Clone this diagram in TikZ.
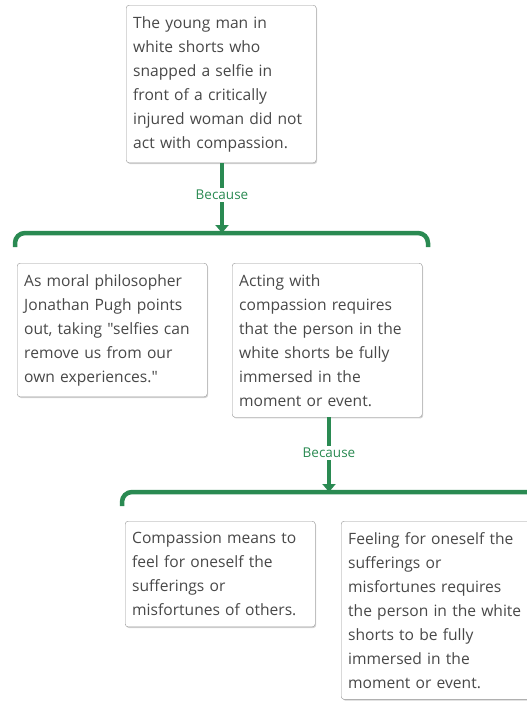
\documentclass[tikz,border=0pt]{standalone}
\usepackage{fontspec}
\setmainfont{Open Sans}[Ligatures=TeXOff]
\usetikzlibrary{arrows.meta,positioning,shadows}
\definecolor{reasongreen}{RGB}{42,138,82}
\definecolor{boxgray}{RGB}{150,150,150}
\definecolor{textgray}{RGB}{72,72,72}

\begin{document}
\begin{tikzpicture}[x=1pt,y=-1pt]
\tikzset{
  claimbox/.style={draw=boxgray,rounded corners=3pt,fill=white,
    drop shadow={shadow xshift=1pt,shadow yshift=-1.2pt,opacity=0.35},
    text width=176pt,align=left,inner xsep=7pt,inner ysep=11pt,anchor=north west,
    font=\fontsize{15.6}{24}\selectfont,text=textgray},
  becauselabel/.style={font=\fontsize{13.5}{15}\selectfont,text=reasongreen,inner sep=2pt},
  stem/.style={line width=4.5pt,reasongreen},
  reasonarrow/.style={line width=4.5pt,reasongreen,-{Triangle[length=8pt,width=13pt]}},
  bracket/.style={line width=4.5pt,reasongreen,rounded corners=10pt}
}
\useasboundingbox (0,0) rectangle (527,702);
\node[claimbox] (n_Claim) at (126,5) {The young man in\\ white shorts who\\ snapped a selfie in\\ front of a critically\\ injured woman did not\\ act with compassion.};
\node[becauselabel] (n_Because1) at (222,195) {Because};
\coordinate (c_Bar1) at (222,233);
\coordinate (c_Bar1L) at (15,247);
\coordinate (c_Bar1R) at (428,247);
\node[claimbox] (n_Pugh) at (17,263) {As moral philosopher\\ Jonathan Pugh points\\ out, taking "selfies can\\ remove us from our\\ own experiences."};
\node[claimbox] (n_Req) at (232,263) {Acting with\\ compassion requires\\ that the person in the\\ white shorts be fully\\ immersed in the\\ moment or event.};
\node[becauselabel] (n_Because2) at (329,453) {Because};
\coordinate (c_Bar2) at (329,492);
\coordinate (c_Bar2L) at (122,506);
\coordinate (c_Bar2R) at (540,506);
\node[claimbox] (n_Means) at (125,521) {Compassion means to\\ feel for oneself the\\ sufferings or\\ misfortunes of others.};
\node[claimbox] (n_Feel) at (341,521) {Feeling for oneself the\\ sufferings or\\ misfortunes requires\\ the person in the white\\ shorts to be fully\\ immersed in the\\ moment or event.};
\draw[stem] (n_Claim.south -| n_Because1) -- (n_Because1.north);
\draw[reasonarrow] (n_Because1.south) -- (c_Bar1);
\draw[bracket] (c_Bar1L) |- (c_Bar1) -| (c_Bar1R);
\draw[stem] (n_Req.south -| n_Because2) -- (n_Because2.north);
\draw[reasonarrow] (n_Because2.south) -- (c_Bar2);
\draw[bracket] (c_Bar2L) |- (c_Bar2) -| (c_Bar2R);
\end{tikzpicture}
\end{document}
